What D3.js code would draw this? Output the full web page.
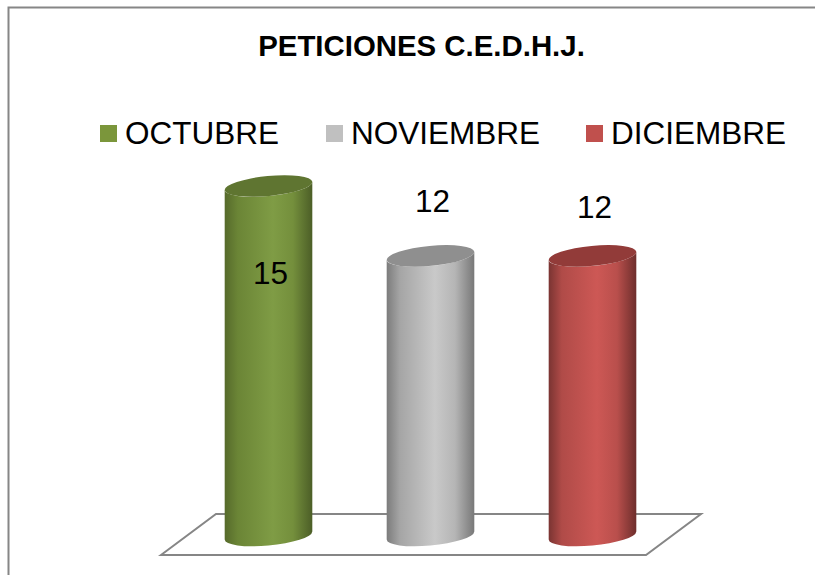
<!DOCTYPE html>
<html>
<head>
<meta charset="utf-8">
<script src="https://cdnjs.cloudflare.com/ajax/libs/d3/7.8.5/d3.min.js"></script>
<style>
html,body{margin:0;padding:0;background:#fff;overflow:hidden}
svg{display:block}
text{font-family:"Liberation Sans",Arial,sans-serif;fill:#000}
</style>
</head>
<body>
<svg id="c" width="815" height="575"></svg>
<script>
const title = "PETICIONES C.E.D.H.J.";
const categories = ["OCTUBRE", "NOVIEMBRE", "DICIEMBRE"];
const values = [15, 12, 12];

// Styling, kept apart from the data
const stopOffsets = [0, 0.15, 0.55, 0.78, 1];
const sideStops = [
  ["#566a2b", "#6b8536", "#7f9c45", "#748f3c", "#4c5e27"],
  ["#7c7c7c", "#a5a5a5", "#c9c9c9", "#b5b5b5", "#787878"],
  ["#7a3432", "#b04b48", "#cd5855", "#b94f4c", "#6e2e2c"]
];
const topColors = ["#5f7531", "#8f8f8f", "#923b39"];
const legendColors = ["#7b963b", "#c0c0c0", "#c0504d"];
const legendSwatchX = [100, 326, 586];
const legendTextX = [125, 351, 611];
const labelY = [284, 212, 218];

const svg = d3.select("#c");
const x = d3.scalePoint().domain(categories).range([268.5, 592.5]);
const y = d3.scaleLinear().domain([0, 15]).range([535.5, 186]);

const gray = "#868686";
svg.append("path").attr("fill", "none").attr("stroke", gray).attr("stroke-width", 2)
  .attr("d", "M8.5,575V7.5H815");
svg.append("path").attr("fill", "none").attr("stroke", gray).attr("stroke-width", 2)
  .attr("d", "M161,555L216,514H701L646,555Z");

svg.append("text").attr("x", 421.5).attr("y", 55.5).attr("text-anchor", "middle")
  .attr("font-size", 29.4).attr("font-weight", "bold").text(title);

const defs = svg.append("defs");
categories.forEach((c, i) => {
  const g = defs.append("linearGradient").attr("id", "side" + i);
  stopOffsets.forEach((o, k) =>
    g.append("stop").attr("offset", o).attr("stop-color", sideStops[i][k]));
});

// Slightly tilted cylinder ellipses
const rx = 44, ry = 10, tilt = -5.5;
const th = tilt * Math.PI / 180;
const ext = Math.sqrt(rx * rx * Math.cos(th) ** 2 + ry * ry * Math.sin(th) ** 2);
const dyExt = (rx * rx - ry * ry) * Math.sin(th) * Math.cos(th) / ext;

const bars = svg.selectAll("g.bar").data(categories).join("g").attr("class", "bar");
bars.append("path")
  .attr("fill", (d, i) => `url(#side${i})`)
  .attr("d", (d, i) => {
    const cx = x(d), t = y(values[i]), b = y(0);
    return `M${cx - ext},${t - dyExt}L${cx - ext},${b - dyExt}` +
      `A${rx},${ry} ${tilt} 0 0 ${cx + ext},${b + dyExt}L${cx + ext},${t + dyExt}` +
      `A${rx},${ry} ${tilt} 0 1 ${cx - ext},${t - dyExt}Z`;
  });
bars.append("ellipse")
  .attr("rx", rx).attr("ry", ry)
  .attr("fill", (d, i) => topColors[i])
  .attr("transform", (d, i) => `translate(${x(d)},${y(values[i])}) rotate(${tilt})`);
bars.append("text")
  .attr("x", d => x(d) + 2).attr("y", (d, i) => labelY[i])
  .attr("text-anchor", "middle").attr("font-size", 31.5)
  .text((d, i) => values[i]);

const legend = svg.selectAll("g.leg").data(categories).join("g").attr("class", "leg");
legend.append("rect")
  .attr("x", (d, i) => legendSwatchX[i]).attr("y", 125)
  .attr("width", 17).attr("height", 17)
  .attr("fill", (d, i) => legendColors[i]);
legend.append("text")
  .attr("x", (d, i) => legendTextX[i]).attr("y", 144)
  .attr("font-size", 31.5).text(d => d);
</script>
</body>
</html>
